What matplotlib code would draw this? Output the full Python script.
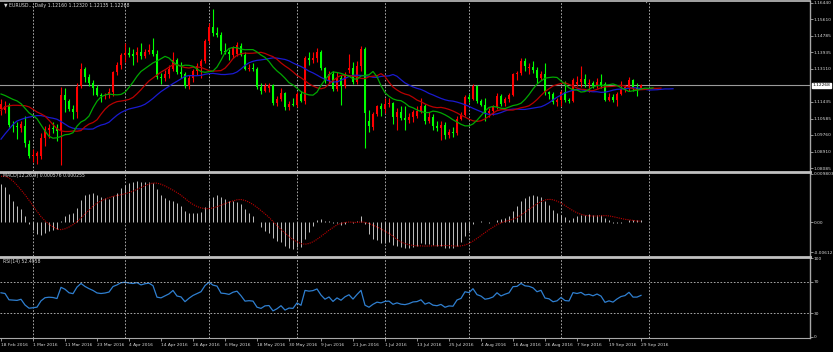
import numpy as np
import pandas as pd
import matplotlib
matplotlib.use('Agg')
import matplotlib.pyplot as plt

W, H = 833, 352

# closes before the first visible bar (Nov 2015 - 17 Feb 2016), only used to warm up the indicators
pre_close = [1.0635, 1.0645, 1.0625, 1.0610, 1.0590, 1.0565,
             1.0630, 1.0615, 1.0940, 1.0885, 1.0835, 1.0895, 1.1025, 1.0990, 1.0990, 1.0995,
             1.0930, 1.0910, 1.0830, 1.0865, 1.0920, 1.0960, 1.0920, 1.0965, 1.0970, 1.0925,
             1.0930, 1.0860,
             1.0830, 1.0745, 1.0780, 1.0925, 1.0920, 1.0860, 1.0855, 1.0875, 1.0865, 1.0915,
             1.0890, 1.0905, 1.0890, 1.0875, 1.0800, 1.0850, 1.0870, 1.0895, 1.0935, 1.0830,
             1.0885, 1.0920, 1.1105, 1.1210, 1.1155, 1.1195, 1.1295, 1.1290, 1.1320, 1.1255,
             1.1150, 1.1145, 1.1125]

# EURUSD daily, 18 Feb 2016 - 29 Sep 2016
opens = [1.1105, 1.1100, 1.1130, 1.1025, 1.1020, 1.1010, 1.1020, 1.0930, 1.0868, 1.0870,
         1.0868, 1.0958, 1.1000, 1.1012, 1.1010, 1.0995, 1.1177, 1.1150, 1.1105, 1.1093,
         1.1222, 1.1310, 1.1270, 1.1240, 1.1215, 1.1180, 1.1172, 1.1180, 1.1195, 1.1295,
         1.1330, 1.1380, 1.1390, 1.1385, 1.1380, 1.1395, 1.1375, 1.1395, 1.1405, 1.1385,
         1.1270, 1.1262, 1.1285, 1.1310, 1.1355, 1.1295, 1.1285, 1.1225, 1.1265, 1.1300,
         1.1325, 1.1350, 1.1450, 1.1520, 1.1490, 1.1480, 1.1400, 1.1395, 1.1380, 1.1385,
         1.1425, 1.1380, 1.1310, 1.1315, 1.1310, 1.1220, 1.1200, 1.1215, 1.1228, 1.1140,
         1.1160, 1.1190, 1.1115, 1.1135, 1.1130, 1.1185, 1.1150, 1.1365, 1.1355, 1.1365,
         1.1395, 1.1315, 1.1250, 1.1285, 1.1210, 1.1265, 1.1225, 1.1305, 1.1315, 1.1245,
         1.1325, 1.1410, 1.1045, 1.1015, 1.1080, 1.1125, 1.1105, 1.1135, 1.1140, 1.1065,
         1.1090, 1.1060, 1.1050, 1.1065, 1.1070, 1.1095, 1.1120, 1.1045, 1.1065, 1.1020,
         1.1010, 1.1025, 1.0975, 1.0990, 1.0985, 1.1055, 1.1075, 1.1170, 1.1160, 1.1225,
         1.1150, 1.1130, 1.1085, 1.1095, 1.1115, 1.1175, 1.1140, 1.1160, 1.1180, 1.1285,
         1.1290, 1.1350, 1.1315, 1.1320, 1.1305, 1.1265, 1.1285, 1.1195, 1.1185, 1.1145,
         1.1155, 1.1195, 1.1155, 1.1150, 1.1235, 1.1245, 1.1260, 1.1232, 1.1240, 1.1225,
         1.1245, 1.1235, 1.1155, 1.1170, 1.1155, 1.1185, 1.1205, 1.1220, 1.1255, 1.1215,
         1.1216]
highs = [1.1160, 1.1150, 1.1140, 1.1045, 1.1040, 1.1045, 1.1070, 1.0950, 1.0905, 1.0895,
         1.0985, 1.1020, 1.1030, 1.1040, 1.1030, 1.1218, 1.1215, 1.1160, 1.1130, 1.1240,
         1.1342, 1.1320, 1.1285, 1.1255, 1.1230, 1.1190, 1.1190, 1.1215, 1.1300, 1.1345,
         1.1390, 1.1440, 1.1420, 1.1410, 1.1420, 1.1440, 1.1410, 1.1435, 1.1465, 1.1405,
         1.1290, 1.1305, 1.1330, 1.1395, 1.1365, 1.1345, 1.1295, 1.1280, 1.1310, 1.1340,
         1.1360, 1.1460, 1.1545, 1.1616, 1.1525, 1.1495, 1.1440, 1.1410, 1.1425, 1.1445,
         1.1440, 1.1395, 1.1335, 1.1340, 1.1320, 1.1240, 1.1240, 1.1240, 1.1235, 1.1175,
         1.1215, 1.1195, 1.1150, 1.1165, 1.1195, 1.1200, 1.1375, 1.1395, 1.1395, 1.1415,
         1.1405, 1.1320, 1.1300, 1.1300, 1.1295, 1.1280, 1.1295, 1.1385, 1.1345, 1.1350,
         1.1427, 1.1420, 1.1100, 1.1090, 1.1130, 1.1140, 1.1165, 1.1165, 1.1145, 1.1110,
         1.1120, 1.1120, 1.1085, 1.1100, 1.1120, 1.1165, 1.1135, 1.1090, 1.1080, 1.1045,
         1.1045, 1.1040, 1.1005, 1.1015, 1.1070, 1.1090, 1.1180, 1.1185, 1.1235, 1.1230,
         1.1160, 1.1165, 1.1110, 1.1130, 1.1190, 1.1185, 1.1170, 1.1190, 1.1290, 1.1300,
         1.1365, 1.1365, 1.1340, 1.1350, 1.1320, 1.1300, 1.1340, 1.1200, 1.1195, 1.1165,
         1.1205, 1.1250, 1.1165, 1.1265, 1.1275, 1.1327, 1.1285, 1.1260, 1.1250, 1.1265,
         1.1285, 1.1245, 1.1190, 1.1185, 1.1195, 1.1250, 1.1230, 1.1270, 1.1260, 1.1240,
         1.1232]
lows = [1.1075, 1.1085, 1.1015, 1.0990, 1.0955, 1.0990, 1.0915, 1.0858, 1.0840, 1.0830,
        1.0855, 1.0920, 1.0960, 1.0985, 1.0945, 1.0822, 1.1090, 1.1095, 1.1055, 1.1060,
        1.1215, 1.1245, 1.1225, 1.1180, 1.1175, 1.1145, 1.1160, 1.1165, 1.1175, 1.1280,
        1.1310, 1.1345, 1.1370, 1.1330, 1.1345, 1.1360, 1.1365, 1.1385, 1.1375, 1.1260,
        1.1235, 1.1250, 1.1265, 1.1300, 1.1285, 1.1265, 1.1215, 1.1210, 1.1245, 1.1280,
        1.1265, 1.1340, 1.1440, 1.1475, 1.1470, 1.1385, 1.1385, 1.1355, 1.1365, 1.1375,
        1.1375, 1.1305, 1.1300, 1.1300, 1.1210, 1.1185, 1.1195, 1.1195, 1.1130, 1.1125,
        1.1150, 1.1100, 1.1100, 1.1120, 1.1115, 1.1145, 1.1135, 1.1330, 1.1340, 1.1345,
        1.1305, 1.1240, 1.1240, 1.1200, 1.1200, 1.1130, 1.1215, 1.1290, 1.1235, 1.1235,
        1.1300, 1.0912, 1.0990, 1.1000, 1.1070, 1.1070, 1.1085, 1.1115, 1.1030, 1.1000,
        1.1050, 1.1000, 1.1035, 1.1040, 1.1060, 1.1085, 1.1030, 1.1035, 1.1000, 1.0995,
        1.0950, 1.0955, 1.0960, 1.0965, 1.0975, 1.1050, 1.1070, 1.1145, 1.1155, 1.1140,
        1.1120, 1.1045, 1.1065, 1.1075, 1.1105, 1.1125, 1.1120, 1.1145, 1.1175, 1.1255,
        1.1280, 1.1300, 1.1285, 1.1290, 1.1240, 1.1255, 1.1180, 1.1160, 1.1135, 1.1120,
        1.1125, 1.1145, 1.1140, 1.1145, 1.1225, 1.1220, 1.1220, 1.1195, 1.1215, 1.1215,
        1.1215, 1.1150, 1.1150, 1.1145, 1.1120, 1.1180, 1.1195, 1.1200, 1.1200, 1.1175,
        1.12135]
closes = [1.1135, 1.1125, 1.1025, 1.1020, 1.1015, 1.1030, 1.0935, 1.0870, 1.0875, 1.0882,
          1.0960, 1.1005, 1.1012, 1.1008, 1.0995, 1.1177, 1.1152, 1.1105, 1.1093, 1.1220,
          1.1310, 1.1270, 1.1240, 1.1215, 1.1180, 1.1172, 1.1180, 1.1195, 1.1295, 1.1330,
          1.1380, 1.1390, 1.1383, 1.1378, 1.1395, 1.1375, 1.1395, 1.1405, 1.1385, 1.1270,
          1.1262, 1.1285, 1.1310, 1.1355, 1.1295, 1.1285, 1.1225, 1.1265, 1.1300, 1.1325,
          1.1350, 1.1450, 1.1520, 1.1490, 1.1480, 1.1400, 1.1395, 1.1385, 1.1415, 1.1430,
          1.1380, 1.1310, 1.1315, 1.1310, 1.1220, 1.1200, 1.1225, 1.1228, 1.1140, 1.1160,
          1.1190, 1.1115, 1.1135, 1.1130, 1.1185, 1.1150, 1.1365, 1.1355, 1.1365, 1.1395,
          1.1315, 1.1250, 1.1285, 1.1210, 1.1265, 1.1225, 1.1280, 1.1315, 1.1245, 1.1325,
          1.1410, 1.1085, 1.1020, 1.1080, 1.1125, 1.1105, 1.1135, 1.1140, 1.1065, 1.1090,
          1.1060, 1.1050, 1.1065, 1.1090, 1.1095, 1.1120, 1.1045, 1.1065, 1.1020, 1.1010,
          1.1025, 1.0975, 1.0990, 1.0985, 1.1055, 1.1075, 1.1170, 1.1160, 1.1225, 1.1150,
          1.1130, 1.1085, 1.1095, 1.1115, 1.1175, 1.1135, 1.1160, 1.1180, 1.1285, 1.1290,
          1.1350, 1.1325, 1.1320, 1.1305, 1.1265, 1.1285, 1.1195, 1.1185, 1.1145, 1.1155,
          1.1195, 1.1155, 1.1150, 1.1255, 1.1245, 1.1260, 1.1232, 1.1240, 1.1225, 1.1245,
          1.1225, 1.1155, 1.1170, 1.1155, 1.1185, 1.1210, 1.1220, 1.1255, 1.1210, 1.1210,
          1.12268]

date_labels = ['18 Feb 2016', '1 Mar 2016', '11 Mar 2016', '23 Mar 2016', '4 Apr 2016',
               '14 Apr 2016', '26 Apr 2016', '6 May 2016', '18 May 2016', '30 May 2016',
               '9 Jun 2016', '21 Jun 2016', '1 Jul 2016', '13 Jul 2016', '25 Jul 2016',
               '4 Aug 2016', '16 Aug 2016', '26 Aug 2016', '7 Sep 2016', '19 Sep 2016',
               '29 Sep 2016']
month_bars = [8, 31, 52, 74, 96, 117, 140, 162]
price_ticks = [1.16440, 1.15610, 1.14785, 1.13935, 1.13110, 1.11435, 1.10585,
               1.09760, 1.08910, 1.08085]
bid = 1.12268
macd_ticks = [0.009803, 0.0, -0.006125]
macd_tick_labels = ['0.009803', '0.00', '-0.006125']
rsi_ticks = [100, 70, 30, 0]

# ---- indicators -------------------------------------------------------------
n_pre = len(pre_close)
close_all = pd.Series(pre_close + closes)
median_all = pd.Series(pre_close + [(h + l) / 2 for h, l in zip(highs, lows)])


def smma(s, n):
    return s.ewm(alpha=1.0 / n, adjust=False).mean()


ema12 = close_all.ewm(span=12, adjust=False).mean()
ema26 = close_all.ewm(span=26, adjust=False).mean()
macd = (ema12 - ema26)
signal = macd.rolling(9).mean()
macd = macd.iloc[n_pre:].to_numpy()
signal = signal.iloc[n_pre:].to_numpy()

delta = close_all.diff()
gain = delta.clip(lower=0).ewm(alpha=1 / 14, adjust=False).mean()
loss = (-delta.clip(upper=0)).ewm(alpha=1 / 14, adjust=False).mean()
rsi = (100 - 100 / (1 + gain / loss)).iloc[n_pre:].to_numpy()

x = np.arange(len(closes))
o = np.array(opens)
c = np.array(closes)
hi = np.array(highs)
lo = np.array(lows)

# ---- figure ----------------------------------------------------------------
fig = plt.figure(figsize=(W / 100, H / 100), dpi=100, facecolor='black')


def panel(top, bottom):
    return fig.add_axes([0, 1 - bottom / H, 810 / W, (bottom - top) / H], facecolor='black')


ax1 = panel(1, 171)
ax2 = panel(172, 256)
ax3 = panel(257, 338)

axis_col = '#a8a8a8'
text_col = '#d8d8d8'
fs = 3.2
for ax in (ax1, ax2, ax3):
    ax.set_xlim(-0.25, 202.25)
    for s in ('left', 'bottom'):
        ax.spines[s].set_visible(False)
    ax.spines['right'].set_color(axis_col)
    ax.spines['right'].set_linewidth(1)
    ax.spines['top'].set_color('#c0c0c0')
    ax.spines['top'].set_linewidth(2)
    ax.yaxis.tick_right()
    ax.tick_params(axis='y', colors=axis_col, labelcolor=text_col, labelsize=fs,
                   length=2, width=0.6, pad=0.8)
    for b in month_bars:
        ax.axvline(b, color='#c0c0c0', lw=0.6, ls=(0, (2, 2)), zorder=0)
ax1.spines['top'].set_linewidth(1.2)
ax3.spines['bottom'].set_visible(True)
ax3.spines['bottom'].set_color(axis_col)

# main panel: candles + alligator
ax1.set_ylim(1.1644 - 168 / 1975, 1.1644 + 2 / 1975)
up = c >= o
cols = np.where(up, '#ff0000', '#00ff00')
ax1.vlines(x, lo, hi, colors=cols, lw=0.8, zorder=3)
body = np.maximum(np.abs(c - o), 0.00006)
ax1.bar(x, body, bottom=np.minimum(o, c), width=0.72, color=cols, linewidth=0, zorder=4)

jaw = smma(median_all, 13).iloc[n_pre - 8:].to_numpy()
teeth = smma(median_all, 8).iloc[n_pre - 5:].to_numpy()
lips = smma(median_all, 5).iloc[n_pre - 3:].to_numpy()
ax1.plot(np.arange(len(jaw)), jaw, color='#1a1ad0', lw=0.9, zorder=5)
ax1.plot(np.arange(len(teeth)), teeth, color='#b80000', lw=0.9, zorder=5)
ax1.plot(np.arange(len(lips)), lips, color='#00a800', lw=0.9, zorder=5)

ax1.axhline(bid, color='#9a9a9a', lw=0.8, zorder=2)
ax1.set_xticks([])
ax1.set_yticks(price_ticks)
ax1.set_yticklabels(['%.5f' % p for p in price_ticks])
ax1.annotate('%.5f' % bid, xy=(1.003, bid), xycoords=('axes fraction', 'data'),
             fontsize=fs, color='black', va='center', ha='left', annotation_clip=False,
             bbox=dict(boxstyle='square,pad=0.12', fc='white', ec='white'))

# MACD panel
ax2.set_ylim(-34 / 4898, 50 / 4898)
ax2.vlines(x, 0, macd, colors='#c0c0c0', lw=0.7)
ax2.plot(x, signal, color='#c00000', lw=0.8, ls=(0, (1, 1)))
ax2.set_xticks([])
ax2.set_yticks(macd_ticks)
ax2.set_yticklabels(macd_tick_labels)

# RSI panel
ax3.set_ylim(-1.27, 101.27)
ax3.plot(x, rsi, color='#2f7fd0', lw=0.9)
for lvl in (70, 30):
    ax3.axhline(lvl, color='#c0c0c0', lw=0.6, ls=(0, (2, 2)))
ax3.set_yticks(rsi_ticks)
ax3.set_yticklabels([str(v) for v in rsi_ticks])
ax3.set_xticks(np.arange(0, len(closes), 8))
ax3.set_xticklabels(date_labels, ha='left')
ax3.tick_params(axis='x', colors=axis_col, labelcolor=text_col, labelsize=fs,
                length=2, width=0.6, pad=1.5)

# headers
hfs = 3.3
fig.text(4 / W, 1 - 5 / H, '\u25bc EURUSD...,Daily 1.12160 1.12320 1.12135 1.12268',
         fontsize=hfs, color=text_col, va='center')
fig.text(3 / W, 1 - 176 / H, 'MACD(12,26,9) 0.000576 0.000255',
         fontsize=hfs, color=text_col, va='center')
fig.text(3 / W, 1 - 261 / H, 'RSI(14) 52.4958', fontsize=hfs, color=text_col, va='center')
fig.text(647 / W, 1 - 3 / H, '\u25bc', fontsize=3, color='#a0a0a0', va='center', ha='center')

fig.savefig('out.png', dpi=100, facecolor='black')
